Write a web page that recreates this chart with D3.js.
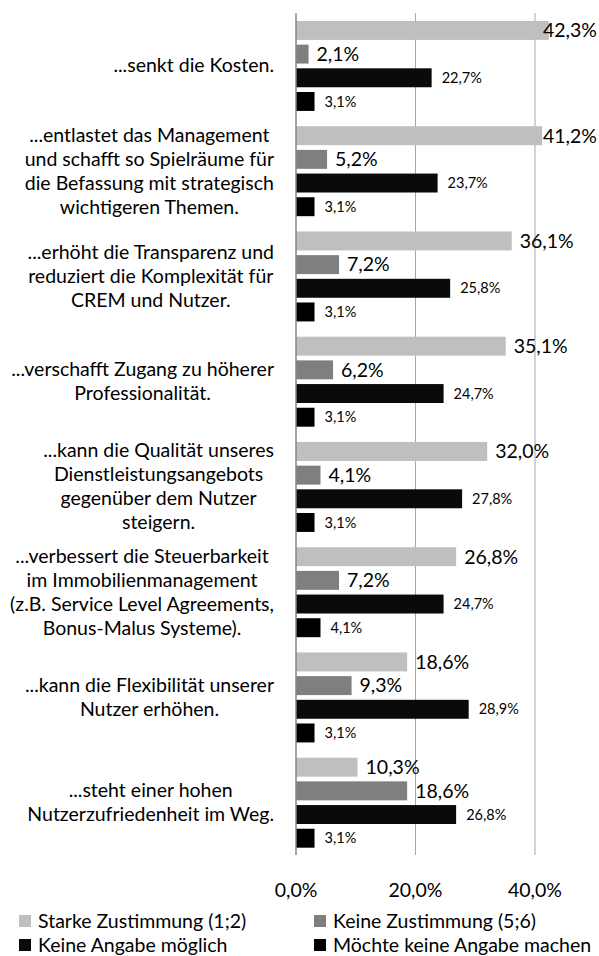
<!DOCTYPE html>
<html>
<head>
<meta charset="utf-8">
<script src="https://cdn.jsdelivr.net/npm/d3@7"></script>
<style>
  html, body { margin: 0; padding: 0; background: #fff; }
  svg { display: block; font-family: Lato, "Noto Sans", sans-serif; }
</style>
</head>
<body>
<div id="chart"></div>
<script>
/* Zustimmung zu Aussagen – gruppierte Balken, 4 Reihen je Aussage */

var categories = [
  '...senkt die Kosten.',
  '...entlastet das Management und schafft so Spielräume für die Befassung mit strategisch wichtigeren Themen.',
  '...erhöht die Transparenz und reduziert die Komplexität für CREM und Nutzer.',
  '...verschafft Zugang zu höherer Professionalität.',
  '...kann die Qualität unseres Dienstleistungsangebots gegenüber dem Nutzer steigern.',
  '...verbessert die Steuerbarkeit im Immobilienmanagement (z.B. Service Level Agreements, Bonus-Malus Systeme).',
  '...kann die Flexibilität unserer Nutzer erhöhen.',
  '...steht einer hohen Nutzerzufriedenheit im Weg.'
];
var categoryLines = [
  ['...senkt die Kosten.'],
  ['...entlastet das Management', 'und schafft so Spielräume für', 'die Befassung mit strategisch', 'wichtigeren Themen.'],
  ['...erhöht die Transparenz und', 'reduziert die Komplexität für', 'CREM und Nutzer.'],
  ['...verschafft Zugang zu höherer', 'Professionalität.'],
  ['...kann die Qualität unseres', 'Dienstleistungsangebots', 'gegenüber dem Nutzer', 'steigern.'],
  ['...verbessert die Steuerbarkeit', 'im Immobilienmanagement', '(z.B. Service Level Agreements,', 'Bonus-Malus Systeme).'],
  ['...kann die Flexibilität unserer', 'Nutzer erhöhen.'],
  ['...steht einer hohen', 'Nutzerzufriedenheit im Weg.']
];

var series = [
  'Starke Zustimmung (1;2)',
  'Keine Zustimmung (5;6)',
  'Keine Angabe möglich',
  'Möchte keine Angabe machen'
];
var starkeZustimmung = [42.3, 41.2, 36.1, 35.1, 32.0, 26.8, 18.6, 10.3];
var keineZustimmung  = [2.1, 5.2, 7.2, 6.2, 4.1, 7.2, 9.3, 18.6];
var keineAngabeMoeglich = [22.7, 23.7, 25.8, 24.7, 27.8, 24.7, 28.9, 26.8];
var keineAngabeMachen   = [3.1, 3.1, 3.1, 3.1, 3.1, 4.1, 3.1, 3.1];
var seriesValues = [starkeZustimmung, keineZustimmung, keineAngabeMoeglich, keineAngabeMachen];
var xTicks = [0, 20, 40];

(function drawChart() {
  var W = 599, H = 956;
  var colors = ['#bfbfbf', '#7f7f7f', '#0a0a0a', '#000000'];
  var labelSize = [19.5, 19.5, 14.5, 14.5];
  var fmt = function (v) { return d3.format('.1f')(v).replace('.', ',') + '%'; };

  var svg = d3.select('#chart').append('svg')
    .attr('width', W).attr('height', H);

  var x = d3.scaleLinear().domain([0, 40]).range([296, 535]);
  var y0 = d3.scaleBand().domain(d3.range(categories.length)).range([13, 855]);
  var y1 = d3.scaleBand().domain(d3.range(series.length))
    .range([5.6, 100.3]).paddingInner(0.2).paddingOuter(0.1);

  /* ── gridlines ── */
  svg.append('g').selectAll('line')
    .data(xTicks.filter(function (t) { return t > 0; }))
    .join('line')
    .attr('x1', function (d) { return x(d); }).attr('x2', function (d) { return x(d); })
    .attr('y1', 13).attr('y2', 855)
    .attr('stroke', '#a6a6a6').attr('stroke-width', 1);

  /* ── bars ── */
  var groups = svg.append('g').selectAll('g')
    .data(categories)
    .join('g')
    .attr('transform', function (d, i) { return 'translate(0,' + y0(i) + ')'; });

  groups.each(function (d, ci) {
    var g = d3.select(this);
    var rows = series.map(function (s, si) { return { si: si, v: seriesValues[si][ci] }; });

    g.selectAll('rect').data(rows).join('rect')
      .attr('x', x(0))
      .attr('y', function (r) { return y1(r.si); })
      .attr('width', function (r) { return x(r.v) - x(0); })
      .attr('height', y1.bandwidth())
      .attr('fill', function (r) { return colors[r.si]; });

    g.selectAll('text.val').data(rows).join('text')
      .attr('class', 'val')
      .attr('y', function (r) { return y1(r.si) + y1.bandwidth() / 2; })
      .attr('dy', '0.35em')
      .attr('font-size', function (r) { return labelSize[r.si]; })
      .attr('fill', '#000')
      .text(function (r) { return fmt(r.v); })
      .attr('x', function (r) {
        var gap = r.si < 2 ? 8 : 10;
        var w = this.getComputedTextLength();
        return Math.min(x(r.v) + gap, 597 - w);
      });
  });

  /* ── zero axis ── */
  svg.append('line')
    .attr('x1', x(0)).attr('x2', x(0))
    .attr('y1', 13).attr('y2', 855)
    .attr('stroke', '#868686').attr('stroke-width', 1.5);

  /* ── category labels: block right-aligned to axis, lines centred ── */
  var lh = 24;
  categoryLines.forEach(function (lines, ci) {
    var cy = y0(ci) + y0.bandwidth() / 2;
    var t = svg.append('text')
      .attr('font-size', 19.5).attr('fill', '#000')
      .attr('text-anchor', 'middle');
    var spans = lines.map(function (line, li) {
      return t.append('tspan')
        .attr('y', cy + (li - (lines.length - 1) / 2) * lh)
        .attr('dy', '0.35em')
        .text(line);
    });
    var maxW = d3.max(spans, function (s) { return s.node().getComputedTextLength(); });
    spans.forEach(function (s) { s.attr('x', 274 - maxW / 2); });
  });

  /* ── x tick labels ── */
  svg.append('g').selectAll('text')
    .data(xTicks).join('text')
    .attr('x', function (d) { return x(d); })
    .attr('y', 890).attr('dy', '0.35em')
    .attr('text-anchor', 'middle')
    .attr('font-size', 19.5).attr('fill', '#000')
    .text(function (d) { return fmt(d); });

  /* ── legend ── */
  var legendPos = [
    { x: 19,  y: 921 },
    { x: 314, y: 921 },
    { x: 19,  y: 945 },
    { x: 314, y: 945 }
  ];
  var leg = svg.append('g').selectAll('g')
    .data(series).join('g')
    .attr('transform', function (d, i) {
      return 'translate(' + legendPos[i].x + ',' + legendPos[i].y + ')';
    });
  leg.append('rect')
    .attr('x', 0).attr('y', -6).attr('width', 12).attr('height', 12)
    .attr('fill', function (d, i) { return colors[i]; });
  leg.append('text')
    .attr('x', 19).attr('dy', '0.35em')
    .attr('font-size', 19.5).attr('fill', '#000')
    .text(function (d) { return d; });
}());
</script>
</body>
</html>
